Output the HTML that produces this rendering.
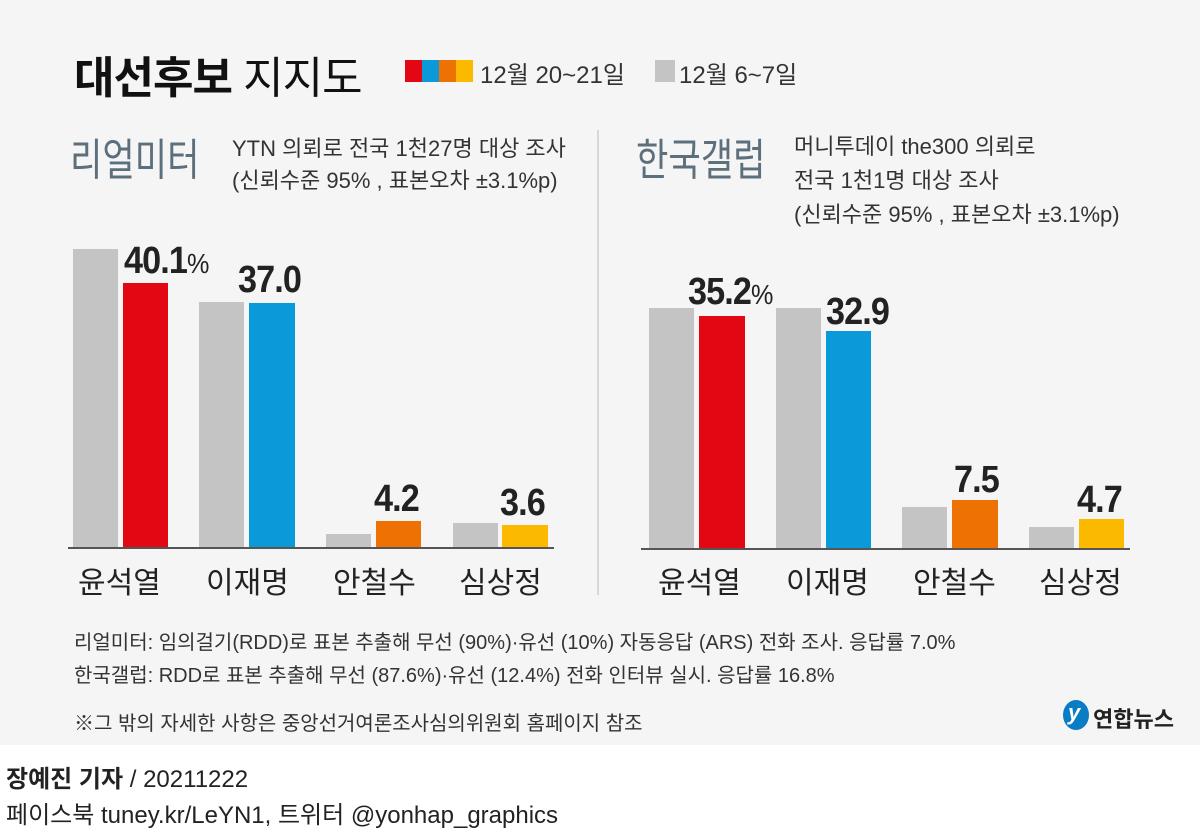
<!DOCTYPE html>
<html><head><meta charset="utf-8"><style>
body{margin:0;width:1200px;height:833px;background:#fff;font-family:"Liberation Sans","Noto Sans CJK KR",sans-serif;position:relative;overflow:hidden}
.bg{position:absolute;left:0;top:0;width:1200px;height:745px;background:#f5f5f5}
.a{position:absolute;white-space:nowrap}
.b{position:absolute}
.v{position:absolute;font-weight:bold;font-size:38px;color:#222;letter-spacing:-1px;transform:scaleX(0.9);transform-origin:left top}
.n{position:absolute;font-size:30px;color:#222;top:558px}
.f{font-size:20px;color:#333}
.t{position:absolute;white-space:nowrap;font-size:44px;color:#5c6f7c;transform:scaleX(0.8);transform-origin:left top}
</style></head><body>
<div class="bg"></div>
<div class="a" style="left:74px;top:42px;font-size:44px;color:#111;letter-spacing:-1px"><b>대선후보</b> 지지도</div>
<div class="b" style="left:405px;top:60px;width:17px;height:22px;background:#e30613"></div>
<div class="b" style="left:422px;top:60px;width:17px;height:22px;background:#0a9ad9"></div>
<div class="b" style="left:439px;top:60px;width:17px;height:22px;background:#ee7203"></div>
<div class="b" style="left:456px;top:60px;width:17px;height:22px;background:#fbb900"></div>
<div class="a" style="left:480px;top:55px;font-size:24px;color:#333">12월 20~21일</div>
<div class="b" style="left:655px;top:60px;width:20px;height:22px;background:#c4c4c4"></div>
<div class="a" style="left:679px;top:55px;font-size:24px;color:#333">12월 6~7일</div>

<div class="t" style="left:70px;top:124px">리얼미터</div>
<div class="a" style="left:232px;top:133px;font-size:22px;color:#333;line-height:32px">YTN 의뢰로 전국 1천27명 대상 조사<br>(신뢰수준 95% , 표본오차 ±3.1%p)</div>
<div class="b" style="left:597px;top:130px;width:2px;height:465px;background:#d8d8d8"></div>
<div class="t" style="left:636px;top:124px">한국갤럽</div>
<div class="a" style="left:794px;top:130px;font-size:22px;color:#333;line-height:34px">머니투데이 the300 의뢰로<br>전국 1천1명 대상 조사<br>(신뢰수준 95% , 표본오차 ±3.1%p)</div>

<div class="b" style="left:73px;top:249px;width:45px;height:299px;background:#c4c4c4"></div>
<div class="b" style="left:123px;top:283px;width:45px;height:265px;background:#e30613"></div>
<div class="b" style="left:199px;top:302px;width:45px;height:246px;background:#c4c4c4"></div>
<div class="b" style="left:249px;top:303px;width:46px;height:245px;background:#0a9ad9"></div>
<div class="b" style="left:326px;top:534px;width:45px;height:14px;background:#c4c4c4"></div>
<div class="b" style="left:376px;top:521px;width:45px;height:27px;background:#ee7203"></div>
<div class="b" style="left:453px;top:523px;width:45px;height:25px;background:#c4c4c4"></div>
<div class="b" style="left:502px;top:525px;width:46px;height:23px;background:#fbb900"></div>
<div class="b" style="left:68px;top:547px;width:486px;height:2px;background:#555"></div>
<div class="v" style="left:124px;top:240px">40.1<span style="font-size:28px;font-weight:normal">%</span></div>
<div class="v" style="left:238px;top:259px">37.0</div>
<div class="v" style="left:374px;top:478px">4.2</div>
<div class="v" style="left:500px;top:482px">3.6</div>
<div class="n" style="left:78px">윤석열</div>
<div class="n" style="left:206px">이재명</div>
<div class="n" style="left:333px">안철수</div>
<div class="n" style="left:459px">심상정</div>

<div class="b" style="left:649px;top:308px;width:45px;height:241px;background:#c4c4c4"></div>
<div class="b" style="left:699px;top:316px;width:46px;height:233px;background:#e30613"></div>
<div class="b" style="left:776px;top:308px;width:45px;height:241px;background:#c4c4c4"></div>
<div class="b" style="left:826px;top:331px;width:45px;height:218px;background:#0a9ad9"></div>
<div class="b" style="left:902px;top:507px;width:45px;height:42px;background:#c4c4c4"></div>
<div class="b" style="left:952px;top:500px;width:46px;height:49px;background:#ee7203"></div>
<div class="b" style="left:1029px;top:527px;width:45px;height:22px;background:#c4c4c4"></div>
<div class="b" style="left:1079px;top:519px;width:45px;height:30px;background:#fbb900"></div>
<div class="b" style="left:641px;top:548px;width:489px;height:2px;background:#555"></div>
<div class="v" style="left:688px;top:271px">35.2<span style="font-size:28px;font-weight:normal">%</span></div>
<div class="v" style="left:826px;top:291px">32.9</div>
<div class="v" style="left:954px;top:459px">7.5</div>
<div class="v" style="left:1077px;top:479px">4.7</div>
<div class="n" style="left:658px">윤석열</div>
<div class="n" style="left:786px">이재명</div>
<div class="n" style="left:913px">안철수</div>
<div class="n" style="left:1039px">심상정</div>

<div class="a f" style="left:74px;top:626px">리얼미터: 임의걸기(RDD)로 표본 추출해 무선 (90%)·유선 (10%) 자동응답 (ARS) 전화 조사. 응답률 7.0%</div>
<div class="a f" style="left:74px;top:659px">한국갤럽: RDD로 표본 추출해 무선 (87.6%)·유선 (12.4%) 전화 인터뷰 실시. 응답률 16.8%</div>
<div class="a f" style="left:74px;top:707px">※그 밖의 자세한 사항은 중앙선거여론조사심의위원회 홈페이지 참조</div>
<div class="b" style="left:1063px;top:700px;width:26px;height:30px;border-radius:50%;background:#0a7cc4"></div>
<div class="a" style="left:1068px;top:700px;font-size:22px;color:#fff;font-style:italic;font-weight:bold">y</div>
<div class="a" style="left:1093px;top:702px;font-size:22px;font-weight:bold;color:#222">연합뉴스</div>

<div class="a" style="left:6px;top:759px;font-size:24px;color:#222"><b>장예진 기자</b> / 20211222</div>
<div class="a" style="left:6px;top:795px;font-size:24px;color:#222">페이스북 tuney.kr/LeYN1, 트위터 @yonhap_graphics</div>
</body></html>
